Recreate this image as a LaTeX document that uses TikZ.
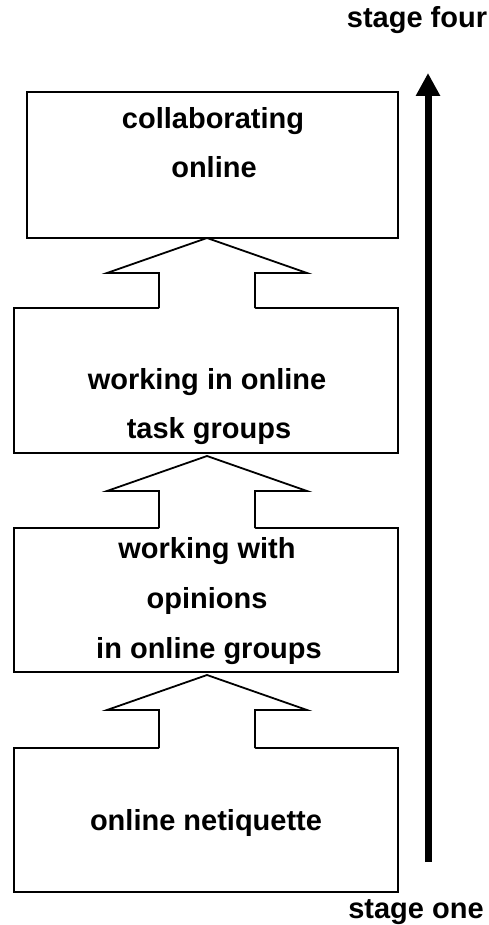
\documentclass[tikz,border=0pt]{standalone}
\usepackage{fontspec}
\setmainfont{Liberation Sans}
\usetikzlibrary{arrows.meta,calc}
\begin{document}
\begin{tikzpicture}[x=1pt,y=-1pt,
  box/.style={draw,line width=1.8pt,inner sep=0pt,outer sep=0pt},
  lbl/.style={font=\fontsize{29}{34}\selectfont\bfseries,anchor=base,inner sep=0pt},
  blockline/.style={line width=1.8pt,line join=miter},
  stagearrow/.style={line width=7pt,-{Triangle[width=23pt,length=23pt]}}]
\useasboundingbox (0,0) rectangle (489,925);
% boxes
\node[box,minimum width=371pt,minimum height=146pt] (b1) at (212.5,165) {};
\node[box,minimum width=384pt,minimum height=145pt] (b2) at (206,380.5) {};
\node[box,minimum width=384pt,minimum height=144pt] (b3) at (206,600) {};
\node[box,minimum width=384pt,minimum height=144pt] (b4) at (206,820) {};
% texts
\node[lbl] (t1a) at (213,129) {collaborating};
\node[lbl] (t1b) at (214,178) {online};
\node[lbl] (t2a) at (207,389) {working in online};
\node[lbl] (t2b) at (209,438) {task groups};
\node[lbl] (t3a) at (207,558) {working with};
\node[lbl] (t3b) at (207,608) {opinions};
\node[lbl] (t3c) at (209,658) {in online groups};
\node[lbl] (t4a) at (206,830) {online netiquette};
\node[lbl] (sf) at (417,28) {stage four};
\node[lbl] (so) at (416,918) {stage one};
% block arrows (tip, shaft length)
\coordinate (p1) at (207,238);
\coordinate (p2) at (207,456);
\coordinate (p3) at (207,675);
\foreach \p/\s in {p1/35,p2/37,p3/38}{
  \fill[white] (\p) -- ++(100,35) -- ++(-52,0) -- ++(0,\s+1.5) -- ++(-96,0) -- ++(0,-\s-1.5) -- ++(-52,0) -- cycle;
  \draw[blockline] ($(\p)+(48,35+\s)$) -- ++(0,-\s) -- ++(52,0) -- (\p) -- ++(-100,35) -- ++(52,0) -- ++(0,\s);
}
% stage arrow
\coordinate (s0) at (428,862);
\coordinate (s1) at (428,73);
\draw[stagearrow] (s0) -- (s1);
\end{tikzpicture}
\end{document}
